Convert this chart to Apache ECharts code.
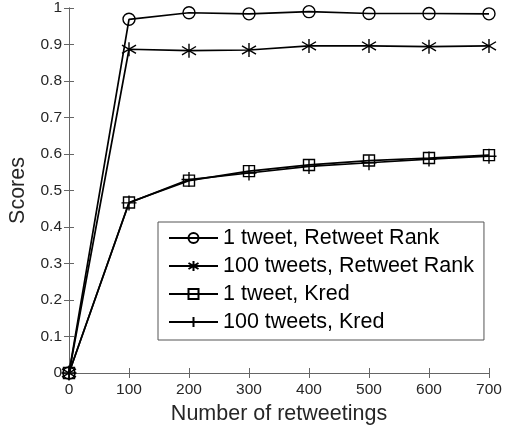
<!DOCTYPE html>
<html>
<head>
<meta charset="utf-8">
<script src="https://cdn.jsdelivr.net/npm/echarts@6/dist/echarts.min.js"></script>
<style>
  html, body { margin: 0; padding: 0; background: #fff; }
  #chart { width: 507px; height: 430px; }
</style>
</head>
<body>
<div id="chart"></div>
<script>
// Number of retweetings on the x axis
const retweetings = [0, 100, 200, 300, 400, 500, 600, 700];

// Scores per method
const oneTweetRetweetRank = [0, 0.969, 0.987, 0.984, 0.990, 0.985, 0.985, 0.984];
const hundredTweetsRetweetRank = [0, 0.887, 0.883, 0.885, 0.896, 0.896, 0.894, 0.896];
const oneTweetKred = [0, 0.467, 0.527, 0.553, 0.570, 0.582, 0.589, 0.597];
const hundredTweetsKred = [0, 0.466, 0.530, 0.548, 0.566, 0.576, 0.586, 0.594];

const seriesNames = [
  '1 tweet, Retweet Rank',
  '100 tweets, Retweet Rank',
  '1 tweet, Kred',
  '100 tweets, Kred'
];

const FONT = '"Liberation Sans", Arial, Helvetica, sans-serif';
const AXIS_COLOR = '#666';
const TEXT_COLOR = '#262626';

// Marker outlines (stroke only)
const STAR = 'path://M0,-1L0,1M-0.8,-0.6L0.8,0.6M-0.8,0.6L0.8,-0.6';
const PLUS = 'path://M0,-1L0,1M-1,0L1,0';

function pairs(values) {
  return retweetings.map((x, i) => [x, values[i]]);
}

function makeSeries(name, values, symbol, size) {
  return {
    name: name,
    type: 'line',
    data: pairs(values),
    symbol: symbol,
    symbolSize: size,
    showAllSymbol: true,
    lineStyle: { color: '#000', width: 1.7 },
    itemStyle: { color: 'rgba(0,0,0,0)', borderColor: '#000', borderWidth: 1.4 },
    emphasis: { disabled: true },
    animation: false,
    z: 3
  };
}

const chart = echarts.init(document.getElementById('chart'), null, { renderer: 'canvas' });

const axisCommon = {
  type: 'value',
  axisLine: { show: true, lineStyle: { color: AXIS_COLOR, width: 1 } },
  axisTick: { show: true, inside: true, length: 5, lineStyle: { color: AXIS_COLOR, width: 1 } },
  splitLine: { show: false }
};

chart.setOption({
  backgroundColor: '#fff',
  animation: false,
  grid: {
    left: 69, right: 18, top: 8, bottom: 57,
    containLabel: false,
    outerBoundsMode: 'none'
  },
  xAxis: [
    Object.assign({}, axisCommon, {
      min: 0, max: 700, interval: 100,
      position: 'bottom',
      name: 'Number of retweetings',
      nameLocation: 'middle',
      nameGap: 30,
      nameTextStyle: { fontFamily: FONT, fontSize: 21.5, color: TEXT_COLOR },
      axisLabel: { fontFamily: FONT, fontSize: 15.5, color: TEXT_COLOR, margin: 9 }
    }),
    Object.assign({}, axisCommon, {
      min: 0, max: 700, interval: 100,
      position: 'top',
      axisLabel: { show: false }
    })
  ],
  yAxis: [
    Object.assign({}, axisCommon, {
      min: 0, max: 1, interval: 0.1,
      position: 'left',
      name: 'Scores',
      nameLocation: 'middle',
      nameGap: 35,
      nameTextStyle: { fontFamily: FONT, fontSize: 21.5, color: TEXT_COLOR },
      axisLabel: {
        fontFamily: FONT, fontSize: 15.5, color: TEXT_COLOR, margin: 7,
        formatter: v => String(Math.round(v * 10) / 10)
      }
    }),
    Object.assign({}, axisCommon, {
      min: 0, max: 1, interval: 0.1,
      position: 'right',
      axisLabel: { show: false }
    })
  ],
  legend: {
    orient: 'vertical',
    left: 158,
    top: 222,
    data: seriesNames,
    itemWidth: 49,
    itemHeight: 12.5,
    itemGap: 6,
    itemTextGap: 5,
    padding: [5, 10, 7, 10],
    borderColor: '#555',
    borderWidth: 1,
    backgroundColor: '#fff',
    selectedMode: false,
    textStyle: { fontFamily: FONT, fontSize: 21.5, color: '#000' }
  },
  series: [
    makeSeries(seriesNames[0], oneTweetRetweetRank, 'circle', 12),
    makeSeries(seriesNames[1], hundredTweetsRetweetRank, STAR, 14),
    makeSeries(seriesNames[2], oneTweetKred, 'rect', 11),
    makeSeries(seriesNames[3], hundredTweetsKred, PLUS, 15)
  ]
});
</script>
</body>
</html>
